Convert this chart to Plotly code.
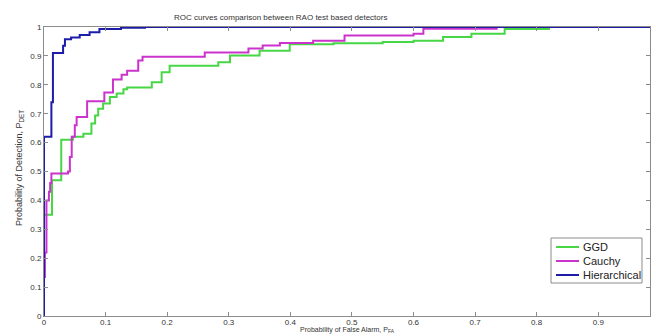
import plotly.graph_objects as go

# ---- data ----
ggd_x = [0, 0, 0.013, 0.028, 0.047, 0.064, 0.077, 0.083, 0.088, 0.096, 0.107, 0.118,
         0.129, 0.135, 0.175, 0.191, 0.204, 0.283, 0.302, 0.350, 0.399, 0.47, 0.55,
         0.60, 0.648, 0.694, 0.748, 0.82, 0.984]
ggd_y = [0, 0.35, 0.47, 0.61, 0.62, 0.631, 0.666, 0.694, 0.717, 0.735, 0.758, 0.77,
         0.785, 0.791, 0.809, 0.843, 0.866, 0.878, 0.901, 0.918, 0.940, 0.944, 0.948,
         0.952, 0.965, 0.977, 0.993, 1.0, 1.0]

cauchy_x = [0, 0.0015, 0.004, 0.008, 0.010, 0.012, 0.039, 0.042, 0.045, 0.050, 0.053,
            0.070, 0.098, 0.112, 0.126, 0.135, 0.153, 0.160, 0.261, 0.332, 0.355, 0.383,
            0.437, 0.488, 0.600, 0.616, 0.735, 0.984]
cauchy_y = [0.135, 0.22, 0.40, 0.43, 0.46, 0.493, 0.50, 0.55, 0.62, 0.66, 0.689,
            0.743, 0.773, 0.818, 0.835, 0.849, 0.884, 0.897, 0.912, 0.926, 0.936, 0.945,
            0.952, 0.971, 0.977, 0.994, 1.0, 1.0]

hier_x = [0, 0, 0.012, 0.0145, 0.031, 0.034, 0.044, 0.058, 0.074, 0.090, 0.125, 0.164, 0.984]
hier_y = [0, 0.62, 0.74, 0.91, 0.935, 0.958, 0.964, 0.972, 0.982, 0.993, 0.997, 1.0, 1.0]

x_ticks = [0, 0.1, 0.2, 0.3, 0.4, 0.5, 0.6, 0.7, 0.8, 0.9]
x_tick_labels = ["0", "0.1", "0.2", "0.3", "0.4", "0.5", "0.6", "0.7", "0.8", "0.9"]
y_ticks = [0, 0.1, 0.2, 0.3, 0.4, 0.5, 0.6, 0.7, 0.8, 0.9, 1.0]
y_tick_labels = ["0", "0.1", "0.2", "0.3", "0.4", "0.5", "0.6", "0.7", "0.8", "0.9", "1"]

series_names = ["GGD", "Cauchy", "Hierarchical"]
series_colors = ["#46d646", "#cc33cc", "#1c1ca8"]

FONT = "Liberation Sans, Arial, sans-serif"

# plot-area geometry in pixels (for converting legend placement to paper coords)
L, R, T, B = 44, 6, 27, 20
W, H = 656, 336
PW, PH = W - L - R, H - T - B


def px_x(p):
    return (p - L) / PW


def px_y(p):
    return (H - B - p) / PH


fig = go.Figure()
for name, xs, ys, col in zip(series_names,
                             [ggd_x, cauchy_x, hier_x],
                             [ggd_y, cauchy_y, hier_y],
                             series_colors):
    fig.add_trace(go.Scatter(x=xs, y=ys, mode="lines", name=name, showlegend=False,
                             line=dict(color=col, width=2, shape="hv")))

axis_common = dict(showgrid=False, zeroline=False, showline=True, linecolor="#8c8c8c",
                   linewidth=1, mirror="ticks", ticks="inside", ticklen=4,
                   tickcolor="#8c8c8c", tickfont=dict(family=FONT, size=8, color="#333"))

fig.update_xaxes(range=[0, 0.984], tickvals=x_ticks, ticktext=x_tick_labels,
                 ticklabelstandoff=-2, **axis_common)
fig.update_yaxes(range=[0, 1], tickvals=y_ticks, ticktext=y_tick_labels, **axis_common)

# custom compact legend (MATLAB style)
shapes = [dict(type="rect", xref="paper", yref="paper",
               x0=px_x(551), x1=px_x(642), y0=px_y(283), y1=px_y(238),
               line=dict(color="#8c8c8c", width=1), fillcolor="white", layer="above")]
annotations = []
row_y = [247, 261, 275]
for name, col, ry in zip(series_names, series_colors, row_y):
    shapes.append(dict(type="line", xref="paper", yref="paper",
                       x0=px_x(556), x1=px_x(579), y0=px_y(ry), y1=px_y(ry),
                       line=dict(color=col, width=2), layer="above"))
    annotations.append(dict(text=name, xref="paper", yref="paper",
                            x=px_x(581), y=px_y(ry), showarrow=False,
                            xanchor="left", yanchor="middle",
                            font=dict(family=FONT, size=11, color="#222")))

annotations += [
    dict(text="ROC curves comparison between RAO test based detectors",
         xref="paper", yref="paper", x=px_x(280), y=1.0, yshift=10,
         showarrow=False, xanchor="center", yanchor="middle",
         font=dict(family=FONT, size=8, color="#333")),
    dict(text="Probability of False Alarm, P<sub>FA</sub>",
         xref="paper", yref="paper", x=0.5, y=0, yshift=-20,
         showarrow=False, xanchor="center", yanchor="bottom",
         font=dict(family=FONT, size=7, color="#333")),
    dict(text="Probability of Detection, P<sub>DET</sub>",
         xref="paper", yref="paper", x=0, xshift=-25, y=px_y(168),
         showarrow=False, xanchor="center", yanchor="middle", textangle=-90,
         font=dict(family=FONT, size=9, color="#333")),
]

fig.update_layout(
    width=W, height=H,
    margin=dict(l=L, r=R, t=T, b=B),
    paper_bgcolor="white", plot_bgcolor="white",
    showlegend=False,
    shapes=shapes,
    annotations=annotations,
)

fig.write_html("out.html")
